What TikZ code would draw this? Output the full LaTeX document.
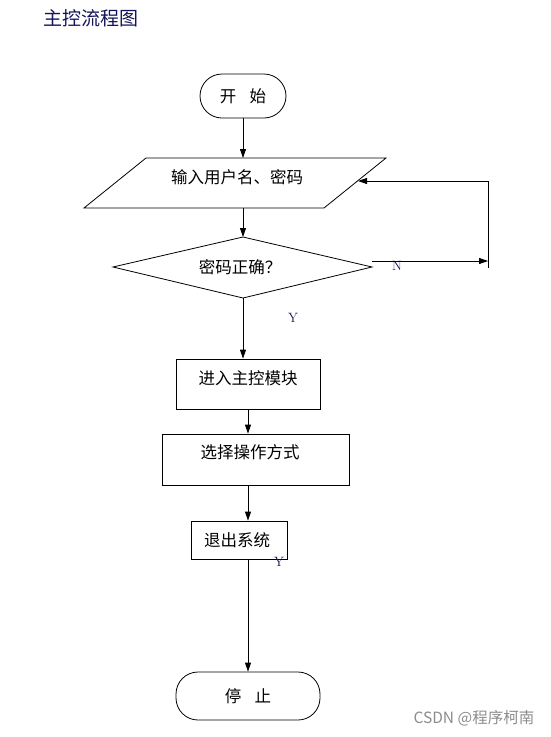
\documentclass[tikz,border=0pt]{standalone}
\usepackage{fontspec}
\newfontfamily\cjk{Noto Sans CJK SC}
\usetikzlibrary{arrows.meta}
\definecolor{ink}{RGB}{20,20,90}
\begin{document}
\begin{tikzpicture}[x=1pt,y=-1pt,line width=0.8pt,
	arr/.style={-{Triangle[length=9pt,width=6pt]}},
	txt/.style={font=\cjk\fontsize{16.5}{18}\selectfont,inner sep=0pt},
	box/.style={draw,inner sep=0pt},
	term/.style={box,rounded corners=22pt},
	lbl/.style={font=\fontsize{13.5}{15}\selectfont,text=ink,inner sep=0pt}]
	\useasboundingbox (0,0) rectangle (551,737);
	% title
	\node[anchor=west,font=\cjk\fontsize{19}{21}\selectfont,text=ink] (title) at (40,18) {主控流程图};
	% start
	\node[term,minimum width=86pt,minimum height=44pt] (start) at (243,96) {};
	\node[txt] (startt) at (243,96) {开\hspace{0.8em}始};
	% input
	\draw (146,158)--(386,158)--(324,208)--(84,208)--cycle;
	\coordinate (intop) at (243,158);
	\coordinate (inbot) at (243,208);
	\coordinate (inright) at (358,181);
	\node[txt] (input) at (237,177) {输入用户名、密码};
	% check
	\draw (243,237)--(372,267)--(243,298)--(113,267)--cycle;
	\coordinate (chktop) at (243,237);
	\coordinate (chkbot) at (243,298);
	\coordinate (chkright) at (372,261);
	\node[txt] (check) at (240,267) {密码正确？};
	\coordinate (loopa) at (488,261);
	\coordinate (loopb) at (488,268);
	\coordinate (loopc) at (488,181);
	\node[lbl] (no) at (397,266) {N};
	\node[lbl] (yes) at (293,318) {Y};
	% boxes
	\node[box,minimum width=144pt,minimum height=50pt] (enter) at (248,384) {};
	\node[txt] (entert) at (248,378) {进入主控模块};
	\node[box,minimum width=187pt,minimum height=51pt] (choose) at (255.5,459.5) {};
	\node[txt] (chooset) at (250,452) {选择操作方式};
	\node[box,minimum width=96pt,minimum height=38pt] (quit) at (239,540) {};
	\node[txt] (quitt) at (237,540) {退出系统};
	\node[lbl] (yes2) at (279,562) {Y};
	% stop
	\node[term,minimum width=144pt,minimum height=48pt] (stop) at (248,696) {};
	\node[txt] (stopt) at (248,696) {停\hspace{0.8em}止};
	% arrows
	\draw[arr] (start.south)--(intop);
	\draw[arr] (inbot)--(chktop);
	\draw[arr] (chkbot)--(chkbot |- enter.north);
	\draw[arr] (enter.south)--(enter.south |- choose.north);
	\draw[arr] (enter.south |- choose.south)--(enter.south |- quit.north);
	\draw[arr] (enter.south |- quit.south)--(stop.north);
	\draw[arr] (chkright)--(loopa);
	\draw (loopb)--(loopc);
	\draw[arr] (loopc)--(inright);
	% watermark
	\node[font=\cjk\fontsize{15.5}{17}\selectfont,text=black!45,anchor=east] (mark) at (538,718) {CSDN @程序柯南};
\end{tikzpicture}
\end{document}
